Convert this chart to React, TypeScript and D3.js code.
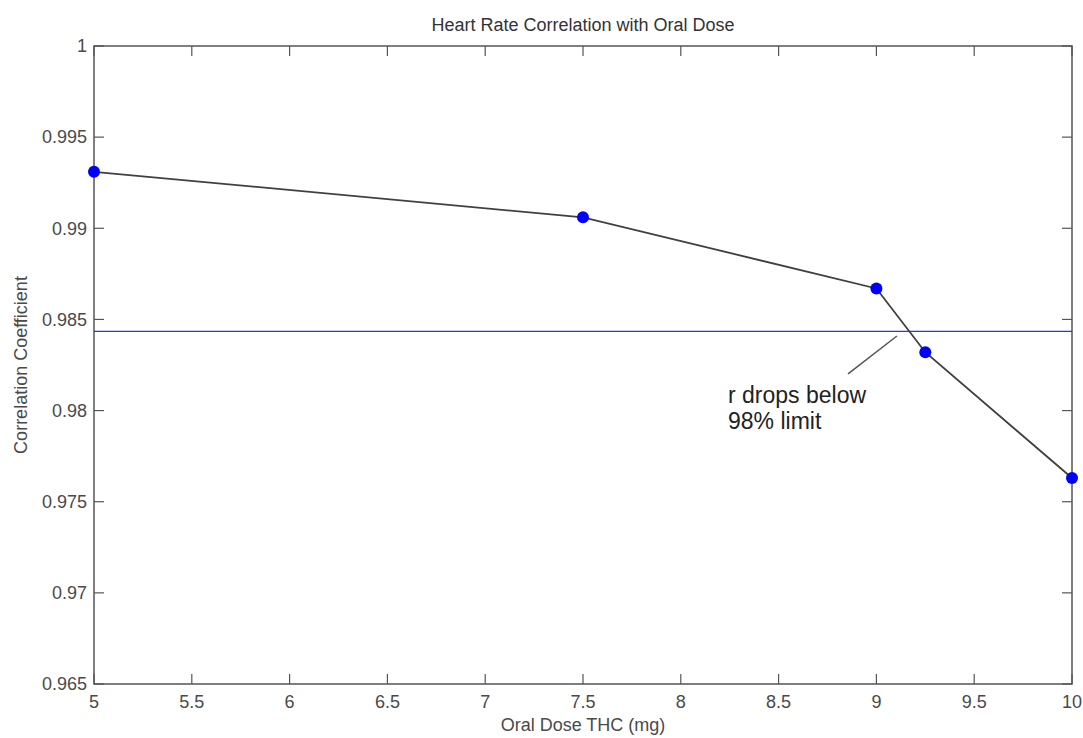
import * as d3 from "d3";
import { useEffect, useRef } from "react";

// data
const doses = [5, 7.5, 9, 9.25, 10];
const correlation = [0.9931, 0.9906, 0.9867, 0.9832, 0.9763];
const limit = 0.98435;
const xTicks = [5, 5.5, 6, 6.5, 7, 7.5, 8, 8.5, 9, 9.5, 10];
const yTicks = [0.965, 0.97, 0.975, 0.98, 0.985, 0.99, 0.995, 1];
const annotation = ["r drops below", "98% limit"];

export default function App() {
  const ref = useRef<SVGSVGElement | null>(null);

  useEffect(() => {
    const width = 1083;
    const height = 738;
    const margin = { top: 46, right: 11, bottom: 54, left: 94 };
    const font = "'Liberation Sans', Arial, sans-serif";

    const svg = d3.select(ref.current);
    svg.selectAll("*").remove();

    const x = d3.scaleLinear().domain([5, 10]).range([margin.left, width - margin.right]);
    const y = d3.scaleLinear().domain([0.965, 1]).range([height - margin.bottom, margin.top]);

    svg.append("rect").attr("width", width).attr("height", height).attr("fill", "#fff");

    const axisColor = "#555";
    const tickLen = 10;

    // frame
    svg
      .append("rect")
      .attr("x", x(5))
      .attr("y", y(1))
      .attr("width", x(10) - x(5))
      .attr("height", y(0.965) - y(1))
      .attr("fill", "none")
      .attr("stroke", axisColor)
      .attr("stroke-width", 1.5);

    // x ticks, bottom and top, inward
    const gx = svg.append("g");
    xTicks.forEach((t) => {
      gx.append("line")
        .attr("x1", x(t)).attr("x2", x(t))
        .attr("y1", y(0.965)).attr("y2", y(0.965) - tickLen)
        .attr("stroke", axisColor).attr("stroke-width", 1.2);
      gx.append("line")
        .attr("x1", x(t)).attr("x2", x(t))
        .attr("y1", y(1)).attr("y2", y(1) + tickLen)
        .attr("stroke", axisColor).attr("stroke-width", 1.2);
      gx.append("text")
        .attr("x", x(t))
        .attr("y", y(0.965) + 24)
        .attr("text-anchor", "middle")
        .attr("font-family", font)
        .attr("font-size", 18)
        .attr("fill", "#4a4a4a")
        .text(d3.format("~g")(t));
    });

    // y ticks, left and right, inward
    const gy = svg.append("g");
    yTicks.forEach((t) => {
      gy.append("line")
        .attr("x1", x(5)).attr("x2", x(5) + tickLen)
        .attr("y1", y(t)).attr("y2", y(t))
        .attr("stroke", axisColor).attr("stroke-width", 1.2);
      gy.append("line")
        .attr("x1", x(10)).attr("x2", x(10) - tickLen)
        .attr("y1", y(t)).attr("y2", y(t))
        .attr("stroke", axisColor).attr("stroke-width", 1.2);
      gy.append("text")
        .attr("x", x(5) - 7)
        .attr("y", y(t))
        .attr("dy", "0.35em")
        .attr("text-anchor", "end")
        .attr("font-family", font)
        .attr("font-size", 18)
        .attr("fill", "#4a4a4a")
        .text(d3.format("~g")(t));
    });

    // 98% limit line
    svg
      .append("line")
      .attr("x1", x(5)).attr("x2", x(10))
      .attr("y1", y(limit)).attr("y2", y(limit))
      .attr("stroke", "#2233ff")
      .attr("stroke-width", 1.3);

    // data line
    const pts = doses.map((d, i) => [d, correlation[i]] as [number, number]);
    svg
      .append("path")
      .datum(pts)
      .attr("d", d3.line<[number, number]>().x((d) => x(d[0])).y((d) => y(d[1])))
      .attr("fill", "none")
      .attr("stroke", "#404040")
      .attr("stroke-width", 1.8);

    svg
      .append("g")
      .selectAll("circle")
      .data(pts)
      .join("circle")
      .attr("cx", (d) => x(d[0]))
      .attr("cy", (d) => y(d[1]))
      .attr("r", 6)
      .attr("fill", "#0000ff");

    // annotation
    svg
      .append("line")
      .attr("x1", x(8.855)).attr("y1", y(0.98201))
      .attr("x2", x(9.105)).attr("y2", y(0.98409))
      .attr("stroke", "#555")
      .attr("stroke-width", 1.5);
    annotation.forEach((s, i) => {
      svg
        .append("text")
        .attr("x", 728)
        .attr("y", 403 + i * 26)
        .attr("font-family", font)
        .attr("font-size", 23)
        .attr("fill", "#222")
        .text(s);
    });

    // title and axis labels
    svg
      .append("text")
      .attr("x", (x(5) + x(10)) / 2)
      .attr("y", 31)
      .attr("text-anchor", "middle")
      .attr("font-family", font)
      .attr("font-size", 18)
      .attr("fill", "#333")
      .text("Heart Rate Correlation with Oral Dose");

    svg
      .append("text")
      .attr("x", (x(5) + x(10)) / 2)
      .attr("y", 731)
      .attr("text-anchor", "middle")
      .attr("font-family", font)
      .attr("font-size", 18)
      .attr("fill", "#4a4a4a")
      .text("Oral Dose THC (mg)");

    svg
      .append("text")
      .attr("transform", `translate(27, ${(y(0.965) + y(1)) / 2}) rotate(-90)`)
      .attr("text-anchor", "middle")
      .attr("font-family", font)
      .attr("font-size", 18)
      .attr("fill", "#4a4a4a")
      .text("Correlation Coefficient");
  }, []);

  return (
    <svg
      ref={ref}
      width={1083}
      height={738}
      style={{ position: "absolute", left: 0, top: 0, display: "block" }}
    />
  );
}
